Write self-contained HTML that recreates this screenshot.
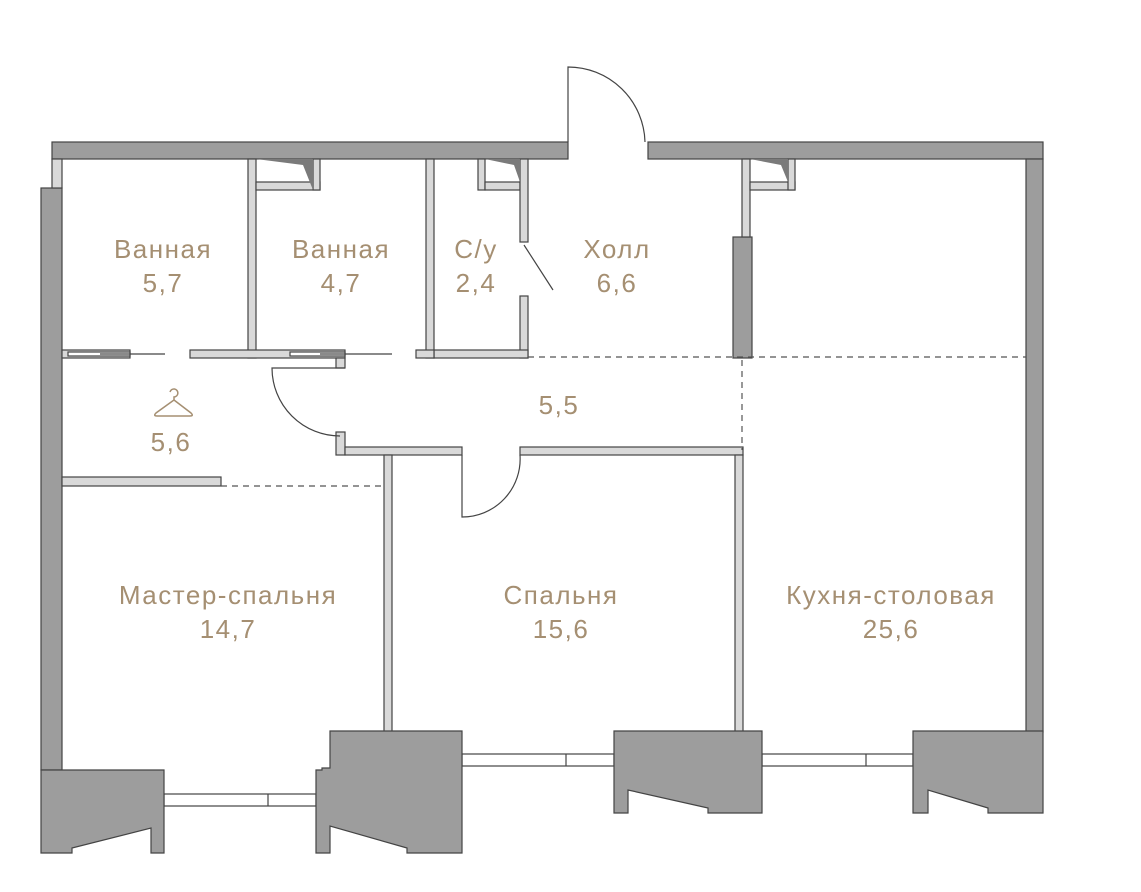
<!DOCTYPE html>
<html><head><meta charset="utf-8"><style>
html,body{margin:0;padding:0;background:#fff;}
svg{display:block;}
text{font-family:"Liberation Sans",sans-serif;font-size:26px;letter-spacing:1.5px;fill:#a58f72;text-anchor:middle;}
</style></head><body>
<svg width="1141" height="892" viewBox="0 0 1141 892" xmlns="http://www.w3.org/2000/svg">
<g stroke="#444" stroke-width="1.2">
<rect x="52" y="142" width="516" height="17" fill="#9d9d9d"/>
<rect x="648" y="142" width="395" height="17" fill="#9d9d9d"/>
<rect x="1026" y="159" width="17" height="573" fill="#9d9d9d"/>
<rect x="41" y="188" width="21" height="582" fill="#9d9d9d"/>
<rect x="52" y="159" width="10" height="29" fill="#d9d9d9"/>
<rect x="733" y="237" width="19" height="121" fill="#9d9d9d"/>
<g fill="#d9d9d9">
<rect x="248" y="159" width="8" height="199"/>
<rect x="256" y="182" width="64" height="8"/>
<rect x="313" y="159" width="7" height="31"/>
<rect x="426" y="159" width="8" height="199"/>
<rect x="478" y="159" width="7" height="31"/>
<rect x="485" y="182" width="35" height="8"/>
<rect x="520" y="159" width="8" height="83"/>
<rect x="520" y="296" width="8" height="62"/>
<rect x="434" y="350" width="94" height="8"/>
<rect x="416" y="350" width="18" height="8"/>
<rect x="62" y="350" width="68" height="8"/>
<rect x="190" y="350" width="155" height="8"/>
<rect x="336" y="358" width="9" height="10"/>
<rect x="742" y="159" width="8" height="78"/>
<rect x="750" y="182" width="45" height="8"/>
<rect x="788" y="159" width="7" height="31"/>
<rect x="336" y="432" width="9" height="23"/>
<rect x="345" y="447" width="117" height="8"/>
<rect x="384" y="455" width="8" height="277"/>
<rect x="520" y="447" width="223" height="8"/>
<rect x="735" y="455" width="8" height="277"/>
<rect x="62" y="477" width="159" height="9"/>
</g>
<g fill="#7a7a7a" stroke="none">
<polygon points="256,159 313,159 313,190 303,165"/>
<polygon points="485,159 520,159 520,182 514,165"/>
<polygon points="750,159 788,159 788,182 781,165"/>
</g>
<g fill="#fff">
<rect x="68" y="352" width="62" height="4"/>
<rect x="290" y="352" width="55" height="4"/>
</g>
<line x1="100" y1="354" x2="165" y2="354"/>
<line x1="320" y1="354" x2="392" y2="354"/>
<g fill="none">
<path d="M568 142 L568 67 A77 77 0 0 1 645 142"/>
<path d="M345 368 L272 368 A68 68 0 0 0 340 436"/>
<path d="M462 455 L462 517 A58 58 0 0 0 520 455"/>
<line x1="524" y1="245" x2="553" y2="290"/>
</g>
<g stroke="#555" stroke-dasharray="6,5" fill="none">
<line x1="528" y1="357" x2="1026" y2="357"/>
<line x1="742" y1="360" x2="742" y2="450"/>
<line x1="221" y1="486" x2="384" y2="486"/>
</g>
<g fill="#fff">
<rect x="164" y="794" width="152" height="12"/>
<rect x="462" y="754" width="152" height="12"/>
<rect x="762" y="754" width="151" height="12"/>
</g>
<line x1="268" y1="794" x2="268" y2="806"/>
<line x1="566" y1="754" x2="566" y2="766"/>
<line x1="866" y1="754" x2="866" y2="766"/>
<g fill="#9d9d9d">
<polygon points="41,770 164,770 164,853 151,853 151,828 72,848 72,853 41,853"/>
<polygon points="330,731 462,731 462,853 407,853 407,848 330,826 330,853 316,853 316,770 322,770 322,768 330,768"/>
<polygon points="614,731 762,731 762,813 708,813 708,808 628,790 628,813 614,813"/>
<polygon points="913,731 1043,731 1043,813 988,813 988,808 928,790 928,813 913,813"/>
</g>
</g>
<path d="M170 392 a4 4 0 1 1 4 5 L174 400 L156 413 Q153 416 157 416 L190 416 Q194 416 191 413 L174 400" fill="none" stroke="#a58f72" stroke-width="1.5"/>
<text x="163" y="258">Ванная</text><text x="163" y="292">5,7</text>
<text x="341" y="258">Ванная</text><text x="341" y="292">4,7</text>
<text x="476" y="258">С/у</text><text x="476" y="292">2,4</text>
<text x="617" y="258">Холл</text><text x="617" y="292">6,6</text>
<text x="559" y="414">5,5</text>
<text x="171" y="451">5,6</text>
<text x="228" y="604">Мастер-спальня</text><text x="228" y="638">14,7</text>
<text x="561" y="604">Спальня</text><text x="561" y="638">15,6</text>
<text x="891" y="604">Кухня-столовая</text><text x="891" y="638">25,6</text>
</svg>
</body></html>
